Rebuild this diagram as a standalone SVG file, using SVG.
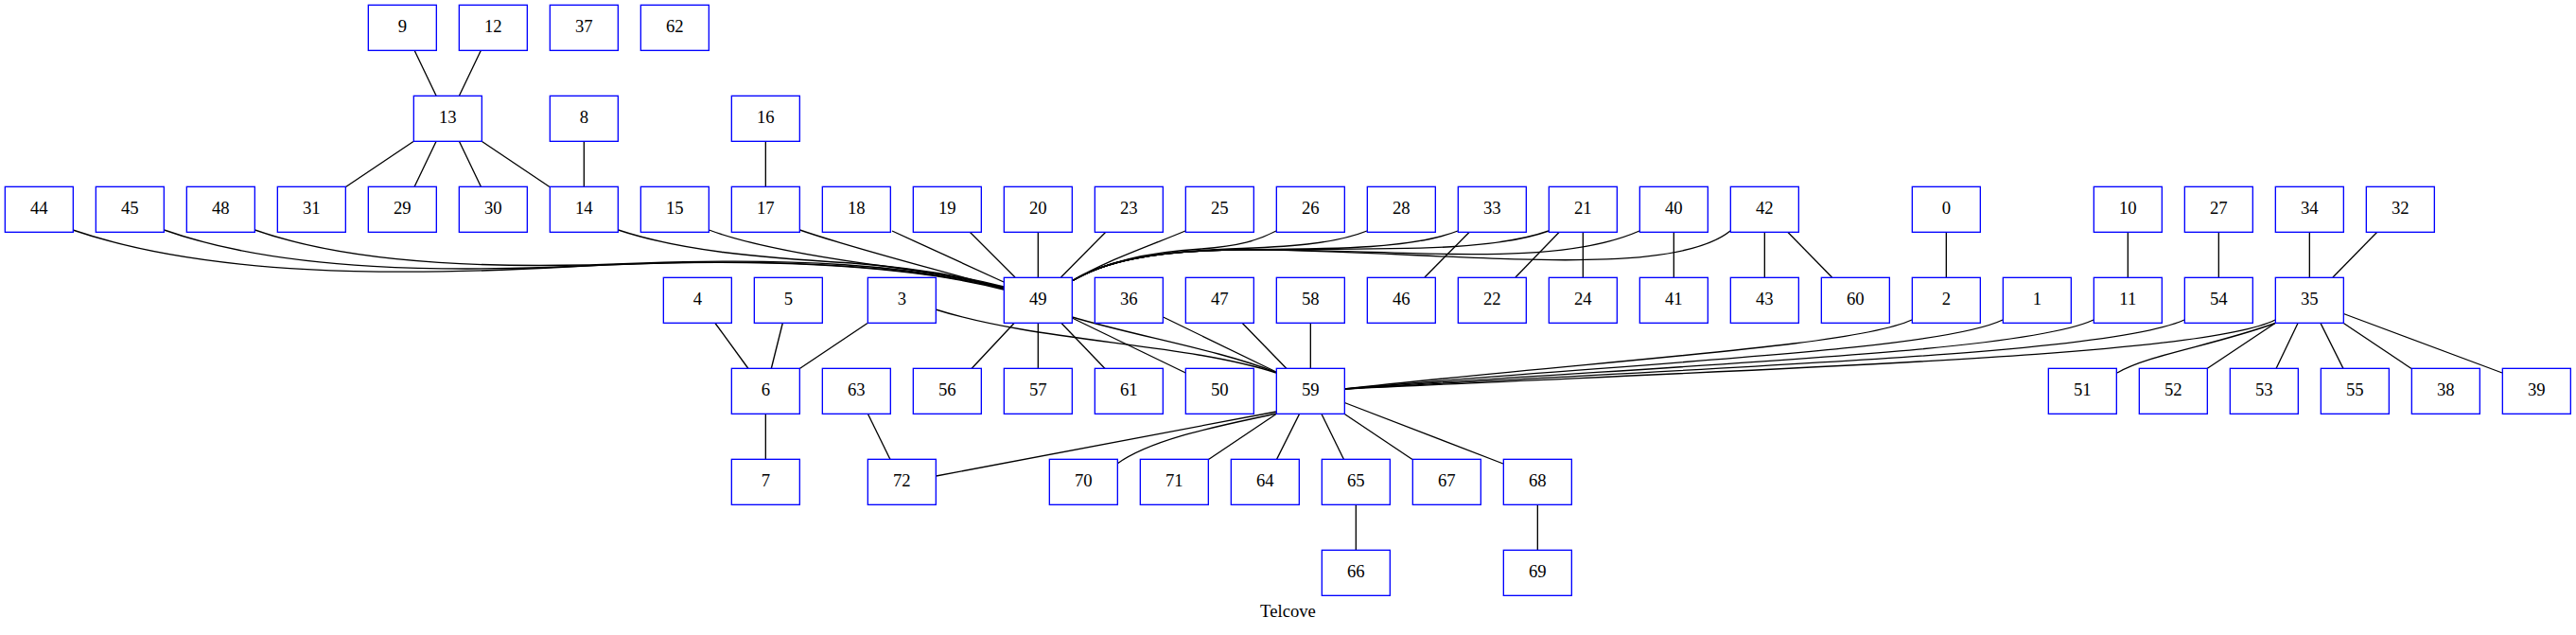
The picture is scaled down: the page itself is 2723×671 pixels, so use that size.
<svg xmlns="http://www.w3.org/2000/svg" width="2723" height="671" viewBox="0 0 2723 671">
<style>
.nb{fill:#ffffff;stroke:#0000ff;stroke-width:1.33}
.n text{font-family:"Liberation Serif","Times New Roman",serif;font-size:18.67px;text-anchor:middle;fill:#000000}
#edges path{fill:none;stroke:#000000;stroke-width:1.33}
.title{font-family:"Liberation Serif","Times New Roman",serif;font-size:18.67px;text-anchor:middle;fill:#000000}
</style>
<defs>
<rect id="box" class="nb" x="-36" y="-24" width="72" height="48" fill="#ffffff" stroke="#0000ff" stroke-width="1.33"/>
</defs>
<rect x="0" y="0" width="2723" height="671" fill="#ffffff"/>
<g id="edges">
<path d="M438,53 L461,101"/>
<path d="M508.5,53 L485.5,101"/>
<path d="M437,149.5 L365.5,197.5"/>
<path d="M461,149.5 L438,197.5"/>
<path d="M485.5,149.5 L508.5,197.5"/>
<path d="M509.5,149.5 L581,197.5"/>
<path d="M617.33,149.33 V197.33"/>
<path d="M809.33,149.33 V197.33"/>
<path d="M77,243 C220,292 420,292 600,282 C800,271 960,280 1061,306"/>
<path d="M173.5,243 C300,288 480,288 640,280 C820,272 960,280 1061,305"/>
<path d="M269.5,243 C380,282 540,284 680,278 C840,272 960,280 1061,304"/>
<path d="M653.5,243 C720,265 800,272 900,278 C980,284 1030,295 1061,303"/>
<path d="M749.5,243 C800,262 880,274 940,282 C1000,290 1040,298 1061,304"/>
<path d="M845.5,243 C900,262 980,282 1061,305"/>
<path d="M943,244 L1061,298"/>
<path d="M1025,245 L1073,293"/>
<path d="M1097.33,245.33 V293.33"/>
<path d="M1169,245 L1121.5,293"/>
<path d="M1133,297 C1170,275 1210,262 1253,244"/>
<path d="M1133,297 C1170,275 1220,266 1270,263 C1310,260 1330,254 1349,244"/>
<path d="M1133,297 C1170,275 1220,266 1300,263 C1360,261 1410,258 1445,244"/>
<path d="M1133,297 C1170,275 1220,266 1300,264 C1400,263 1490,264 1541,244"/>
<path d="M1133,297 C1170,275 1220,266 1300,264 C1450,262 1570,268 1637,244"/>
<path d="M1133,297 C1170,275 1220,266 1300,264 C1480,262 1640,285 1733,244"/>
<path d="M1133,297 C1170,275 1220,266 1300,264 C1500,262 1760,300 1829,244"/>
<path d="M1553,245.5 L1506,293"/>
<path d="M1648,245.5 L1602,293"/>
<path d="M1673.33,245.33 V293.33"/>
<path d="M1769.33,245.33 V293.33"/>
<path d="M1865.33,245.33 V293.33"/>
<path d="M1890,245.5 L1936.5,293"/>
<path d="M2057.33,245.33 V293.33"/>
<path d="M2249.33,245.33 V293.33"/>
<path d="M2345.33,245.33 V293.33"/>
<path d="M2441.33,245.33 V293.33"/>
<path d="M2512.5,245.5 L2466,293"/>
<path d="M1072,341.5 L1027,389.5"/>
<path d="M1097.33,341.33 V389.33"/>
<path d="M1122,341.5 L1168,389.5"/>
<path d="M1133.3,336 L1253.3,394"/>
<path d="M1133.3,335 C1200,355 1290,370 1349,393.5"/>
<path d="M989,327 C1100,362 1250,362 1349,394"/>
<path d="M1229.5,335 L1349,393"/>
<path d="M1313.3,341.5 L1360,389.5"/>
<path d="M1385.33,341.33 V389.33"/>
<path d="M756,341.5 L791,389.5"/>
<path d="M827.3,341.5 L815.3,389.5"/>
<path d="M917,341.5 L845.3,389.5"/>
<path d="M809.33,437.33 V485.33"/>
<path d="M917.5,437.5 L941,485.5"/>
<path d="M1349,435 L989.5,503"/>
<path d="M1349,437 C1300,448 1220,462 1181,490"/>
<path d="M1349,437.5 L1277.5,485.5"/>
<path d="M1373.5,437.5 L1349.5,485.5"/>
<path d="M1397,437.5 L1420.5,485.5"/>
<path d="M1421.3,437.5 L1493,485.5"/>
<path d="M1421.3,425.5 L1589,490"/>
<path d="M1433.33,533.33 V581.33"/>
<path d="M1625.33,533.33 V581.33"/>
<path d="M1421,411 C1700,380 1960,366 2021,338"/>
<path d="M1421,411 C1750,382 2050,370 2117,338"/>
<path d="M1421,411 C1800,384 2140,372 2213,338"/>
<path d="M1421,411 C1850,386 2230,374 2309,338"/>
<path d="M1421,411 C1900,388 2330,376 2405,338"/>
<path d="M2405,341.5 C2340,365 2270,375 2238,394"/>
<path d="M2405,341.5 L2333,389.5"/>
<path d="M2429,341.5 L2406,389.5"/>
<path d="M2453,341.5 L2477,389.5"/>
<path d="M2477.3,341.5 L2549,389.5"/>
<path d="M2477.3,331.5 L2645,394"/>
</g>
<g id="n9" class="n" transform="translate(425.33,29.33)"><use href="#box"/><text y="5">9</text></g>
<g id="n12" class="n" transform="translate(521.33,29.33)"><use href="#box"/><text y="5">12</text></g>
<g id="n37" class="n" transform="translate(617.33,29.33)"><use href="#box"/><text y="5">37</text></g>
<g id="n62" class="n" transform="translate(713.33,29.33)"><use href="#box"/><text y="5">62</text></g>
<g id="n13" class="n" transform="translate(473.33,125.33)"><use href="#box"/><text y="5">13</text></g>
<g id="n8" class="n" transform="translate(617.33,125.33)"><use href="#box"/><text y="5">8</text></g>
<g id="n16" class="n" transform="translate(809.33,125.33)"><use href="#box"/><text y="5">16</text></g>
<g id="n44" class="n" transform="translate(41.33,221.33)"><use href="#box"/><text y="5">44</text></g>
<g id="n45" class="n" transform="translate(137.33,221.33)"><use href="#box"/><text y="5">45</text></g>
<g id="n48" class="n" transform="translate(233.33,221.33)"><use href="#box"/><text y="5">48</text></g>
<g id="n31" class="n" transform="translate(329.33,221.33)"><use href="#box"/><text y="5">31</text></g>
<g id="n29" class="n" transform="translate(425.33,221.33)"><use href="#box"/><text y="5">29</text></g>
<g id="n30" class="n" transform="translate(521.33,221.33)"><use href="#box"/><text y="5">30</text></g>
<g id="n14" class="n" transform="translate(617.33,221.33)"><use href="#box"/><text y="5">14</text></g>
<g id="n15" class="n" transform="translate(713.33,221.33)"><use href="#box"/><text y="5">15</text></g>
<g id="n17" class="n" transform="translate(809.33,221.33)"><use href="#box"/><text y="5">17</text></g>
<g id="n18" class="n" transform="translate(905.33,221.33)"><use href="#box"/><text y="5">18</text></g>
<g id="n19" class="n" transform="translate(1001.33,221.33)"><use href="#box"/><text y="5">19</text></g>
<g id="n20" class="n" transform="translate(1097.33,221.33)"><use href="#box"/><text y="5">20</text></g>
<g id="n23" class="n" transform="translate(1193.33,221.33)"><use href="#box"/><text y="5">23</text></g>
<g id="n25" class="n" transform="translate(1289.33,221.33)"><use href="#box"/><text y="5">25</text></g>
<g id="n26" class="n" transform="translate(1385.33,221.33)"><use href="#box"/><text y="5">26</text></g>
<g id="n28" class="n" transform="translate(1481.33,221.33)"><use href="#box"/><text y="5">28</text></g>
<g id="n33" class="n" transform="translate(1577.33,221.33)"><use href="#box"/><text y="5">33</text></g>
<g id="n21" class="n" transform="translate(1673.33,221.33)"><use href="#box"/><text y="5">21</text></g>
<g id="n40" class="n" transform="translate(1769.33,221.33)"><use href="#box"/><text y="5">40</text></g>
<g id="n42" class="n" transform="translate(1865.33,221.33)"><use href="#box"/><text y="5">42</text></g>
<g id="n0" class="n" transform="translate(2057.33,221.33)"><use href="#box"/><text y="5">0</text></g>
<g id="n10" class="n" transform="translate(2249.33,221.33)"><use href="#box"/><text y="5">10</text></g>
<g id="n27" class="n" transform="translate(2345.33,221.33)"><use href="#box"/><text y="5">27</text></g>
<g id="n34" class="n" transform="translate(2441.33,221.33)"><use href="#box"/><text y="5">34</text></g>
<g id="n32" class="n" transform="translate(2537.33,221.33)"><use href="#box"/><text y="5">32</text></g>
<g id="n4" class="n" transform="translate(737.33,317.33)"><use href="#box"/><text y="5">4</text></g>
<g id="n5" class="n" transform="translate(833.33,317.33)"><use href="#box"/><text y="5">5</text></g>
<g id="n3" class="n" transform="translate(953.33,317.33)"><use href="#box"/><text y="5">3</text></g>
<g id="n49" class="n" transform="translate(1097.33,317.33)"><use href="#box"/><text y="5">49</text></g>
<g id="n36" class="n" transform="translate(1193.33,317.33)"><use href="#box"/><text y="5">36</text></g>
<g id="n47" class="n" transform="translate(1289.33,317.33)"><use href="#box"/><text y="5">47</text></g>
<g id="n58" class="n" transform="translate(1385.33,317.33)"><use href="#box"/><text y="5">58</text></g>
<g id="n46" class="n" transform="translate(1481.33,317.33)"><use href="#box"/><text y="5">46</text></g>
<g id="n22" class="n" transform="translate(1577.33,317.33)"><use href="#box"/><text y="5">22</text></g>
<g id="n24" class="n" transform="translate(1673.33,317.33)"><use href="#box"/><text y="5">24</text></g>
<g id="n41" class="n" transform="translate(1769.33,317.33)"><use href="#box"/><text y="5">41</text></g>
<g id="n43" class="n" transform="translate(1865.33,317.33)"><use href="#box"/><text y="5">43</text></g>
<g id="n60" class="n" transform="translate(1961.33,317.33)"><use href="#box"/><text y="5">60</text></g>
<g id="n2" class="n" transform="translate(2057.33,317.33)"><use href="#box"/><text y="5">2</text></g>
<g id="n1" class="n" transform="translate(2153.33,317.33)"><use href="#box"/><text y="5">1</text></g>
<g id="n11" class="n" transform="translate(2249.33,317.33)"><use href="#box"/><text y="5">11</text></g>
<g id="n54" class="n" transform="translate(2345.33,317.33)"><use href="#box"/><text y="5">54</text></g>
<g id="n35" class="n" transform="translate(2441.33,317.33)"><use href="#box"/><text y="5">35</text></g>
<g id="n6" class="n" transform="translate(809.33,413.33)"><use href="#box"/><text y="5">6</text></g>
<g id="n63" class="n" transform="translate(905.33,413.33)"><use href="#box"/><text y="5">63</text></g>
<g id="n56" class="n" transform="translate(1001.33,413.33)"><use href="#box"/><text y="5">56</text></g>
<g id="n57" class="n" transform="translate(1097.33,413.33)"><use href="#box"/><text y="5">57</text></g>
<g id="n61" class="n" transform="translate(1193.33,413.33)"><use href="#box"/><text y="5">61</text></g>
<g id="n50" class="n" transform="translate(1289.33,413.33)"><use href="#box"/><text y="5">50</text></g>
<g id="n59" class="n" transform="translate(1385.33,413.33)"><use href="#box"/><text y="5">59</text></g>
<g id="n51" class="n" transform="translate(2201.33,413.33)"><use href="#box"/><text y="5">51</text></g>
<g id="n52" class="n" transform="translate(2297.33,413.33)"><use href="#box"/><text y="5">52</text></g>
<g id="n53" class="n" transform="translate(2393.33,413.33)"><use href="#box"/><text y="5">53</text></g>
<g id="n55" class="n" transform="translate(2489.33,413.33)"><use href="#box"/><text y="5">55</text></g>
<g id="n38" class="n" transform="translate(2585.33,413.33)"><use href="#box"/><text y="5">38</text></g>
<g id="n39" class="n" transform="translate(2681.33,413.33)"><use href="#box"/><text y="5">39</text></g>
<g id="n7" class="n" transform="translate(809.33,509.33)"><use href="#box"/><text y="5">7</text></g>
<g id="n72" class="n" transform="translate(953.33,509.33)"><use href="#box"/><text y="5">72</text></g>
<g id="n70" class="n" transform="translate(1145.33,509.33)"><use href="#box"/><text y="5">70</text></g>
<g id="n71" class="n" transform="translate(1241.33,509.33)"><use href="#box"/><text y="5">71</text></g>
<g id="n64" class="n" transform="translate(1337.33,509.33)"><use href="#box"/><text y="5">64</text></g>
<g id="n65" class="n" transform="translate(1433.33,509.33)"><use href="#box"/><text y="5">65</text></g>
<g id="n67" class="n" transform="translate(1529.33,509.33)"><use href="#box"/><text y="5">67</text></g>
<g id="n68" class="n" transform="translate(1625.33,509.33)"><use href="#box"/><text y="5">68</text></g>
<g id="n66" class="n" transform="translate(1433.33,605.33)"><use href="#box"/><text y="5">66</text></g>
<g id="n69" class="n" transform="translate(1625.33,605.33)"><use href="#box"/><text y="5">69</text></g>
<text class="title" x="1361.5" y="652">Telcove</text>
</svg>
